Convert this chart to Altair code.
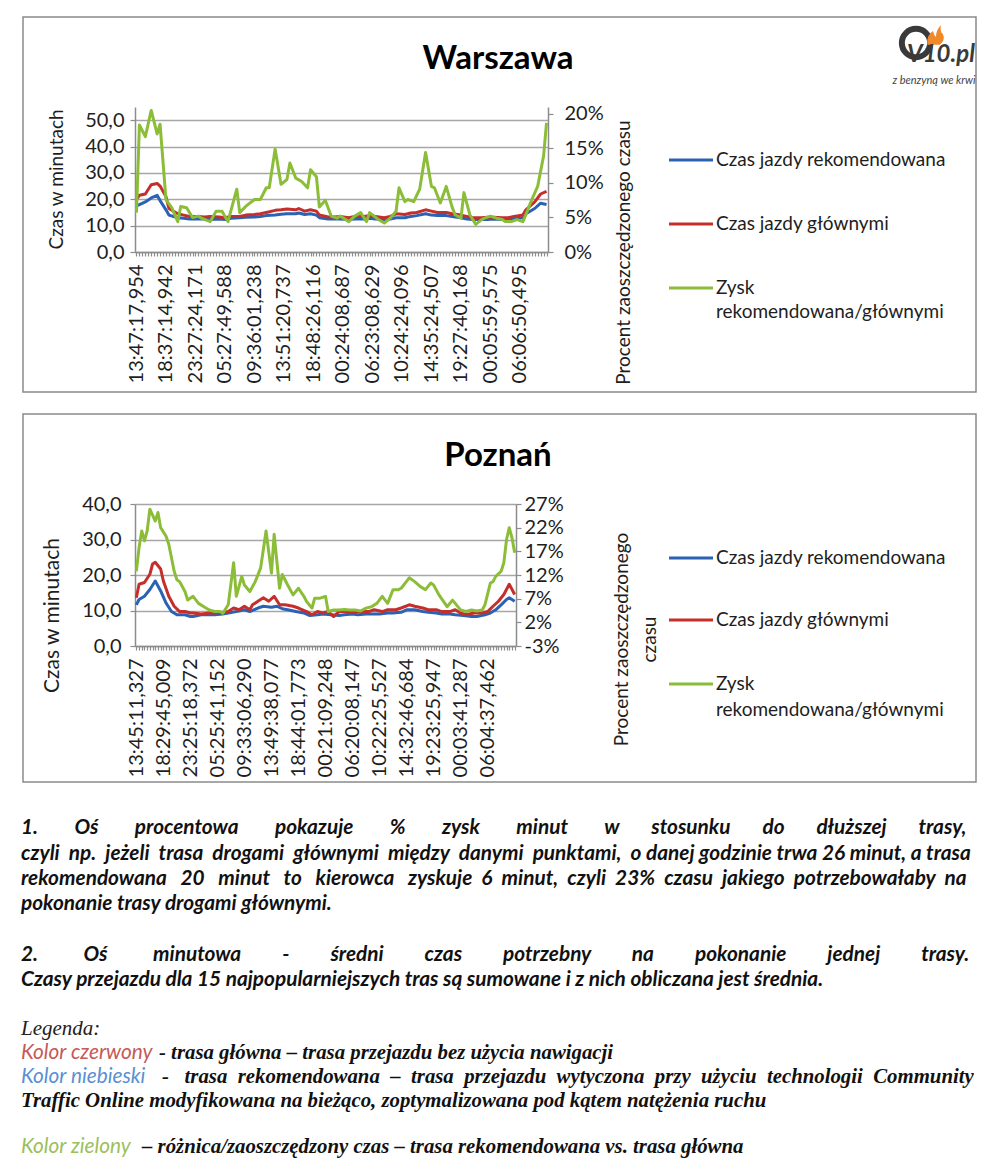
import json
import altair as alt
import pandas as pd

FONT = "Lato"
SERIF = "Liberation Serif"
INK = "#1e1e1e"
GRID = "#a6a6a6"
AXIS = "#8c8c8c"
FRAME = "#8a8a8a"
C_BLUE = "#2b62b3"
C_RED = "#c42f2b"
C_GREEN = "#8cbd38"

SERIES = ["Czas jazdy rekomendowana", "Czas jazdy głównymi", "Zysk rekomendowana/głównymi"]
AX_LEFT = "Czas w minutach"
AX_RIGHT = "Procent zaoszczędzonego czasu"

# ---------------- Warszawa ----------------
W_N = 140
W_LABELS = ["13:47:17,954", "18:37:14,942", "23:27:24,171", "05:27:49,588", "09:36:01,238",
            "13:51:20,737", "18:48:26,116", "00:24:08,687", "06:23:08,629", "10:24:24,096",
            "14:35:24,507", "19:27:40,168", "00:05:59,575", "06:06:50,495"]
W_RB_IDX = [0, 1, 3, 5, 7, 8, 10, 11, 14, 16,
            18, 21, 23, 25, 28, 30, 32, 35, 37, 40,
            42, 44, 47, 49, 51, 54, 55, 57, 59, 61,
            62, 65, 67, 69, 72, 74, 77, 79, 81, 84,
            86, 88, 91, 93, 95, 98, 100, 102, 105, 107,
            110, 112, 114, 117, 119, 121, 124, 126, 128, 131,
            132, 135, 137, 139]
W_RED = [19.9, 21.5, 22, 25.5, 26, 25, 21, 16.5, 14.5, 14,
         13.5, 13.5, 13.3, 13.5, 13.3, 13, 13.5, 13.5, 14, 14.2,
         14.5, 15, 15.8, 16, 16.3, 16, 16.5, 15.5, 16, 15.5,
         14, 13.3, 13.3, 13.5, 13, 13.5, 13.5, 13.8, 13.5, 13,
         13.5, 14.5, 14.2, 14.8, 15, 16, 15.5, 15, 15, 14.5,
         14, 13.5, 13, 13, 13.2, 13.2, 13, 13, 13.5, 14,
         16, 19, 22, 23]
W_BLUE = [17.5, 18, 19, 20.5, 21.5, 19.5, 16, 14, 13, 12.8,
          12.5, 12.5, 12.5, 12.3, 12.5, 12.3, 12.8, 13, 13.2, 13.3,
          13.5, 13.8, 14, 14.3, 14.5, 14.5, 14.8, 14.2, 14.5, 14,
          13, 12.5, 12.5, 12.5, 12.3, 12.5, 12.5, 12.8, 12.5, 12.3,
          12.5, 13, 13, 13.5, 13.8, 14.5, 14, 13.8, 13.8, 13.5,
          13, 12.5, 12.3, 12.3, 12.3, 12.5, 12.3, 12.3, 12.5, 13,
          14.5, 16.5, 18.5, 18]
W_GREEN_IDX = [0, 1, 3, 5, 7, 8, 10, 12, 14, 15,
               17, 19, 21, 22, 25, 27, 29, 31, 34, 35,
               37, 40, 42, 44, 45, 47, 49, 51, 52, 54,
               56, 58, 59, 61, 62, 64, 66, 68, 69, 72,
               74, 76, 78, 79, 82, 84, 86, 88, 89, 91,
               92, 94, 96, 98, 100, 101, 103, 105, 107, 108,
               110, 111, 113, 115, 117, 118, 120, 122, 124, 125,
               127, 129, 131, 132, 134, 136, 138, 139]
W_GREEN = [5.7, 18.4, 16.7, 20.5, 17.1, 18.5, 7.6, 6.4, 4.4, 6.6,
           6.4, 5.0, 5.2, 4.9, 4.4, 5.9, 5.9, 4.4, 9.1, 5.7,
           6.6, 7.6, 7.6, 9.3, 9.3, 14.9, 9.8, 10.5, 12.9, 10.7,
           10.2, 9.3, 11.9, 10.9, 6.5, 7.5, 5.2, 4.9, 5.2, 4.4,
           5.2, 5.7, 4.4, 5.7, 4.7, 4.2, 4.9, 5.9, 9.3, 7.3,
           7.6, 7.3, 9.1, 14.4, 9.5, 9.3, 7.1, 9.5, 6.5, 5.4,
           4.9, 8.6, 5.4, 4.0, 4.7, 4.9, 5.2, 4.9, 4.7, 4.4,
           4.4, 4.7, 4.4, 5.4, 7.6, 9.5, 13.9, 18.7]

# ---------------- Poznań ----------------
P_N = 141
P_LABELS = ["13:45:11,327", "18:29:45,009", "23:25:18,372", "05:25:41,152", "09:33:06,290",
            "13:49:38,077", "18:44:01,773", "00:21:09,248", "06:20:08,147", "10:22:25,527",
            "14:32:46,684", "19:23:25,947", "00:03:41,287", "06:04:37,462"]
P_RED_IDX = [0, 1, 3, 5, 6, 7, 9, 10, 12, 14,
             16, 18, 20, 21, 24, 27, 29, 32, 34, 36,
             38, 40, 42, 43, 45, 47, 49, 51, 53, 55,
             58, 60, 63, 65, 67, 69, 71, 73, 75, 78,
             80, 83, 86, 88, 91, 93, 96, 98, 101, 103,
             106, 108, 111, 113, 116, 118, 120, 122, 125, 128,
             130, 132, 134, 136, 138, 140]
P_RED = [13.6, 17.4, 17.9, 20.2, 23.1, 23.6, 21.7, 18.3, 14.0, 11.2,
         9.7, 9.7, 9.3, 9.3, 9.0, 9.3, 9.3, 9.5, 9.7, 10.7,
         10.2, 11.2, 10.2, 11.6, 12.6, 13.6, 12.6, 14.0, 11.6, 11.6,
         11.2, 10.7, 9.7, 8.8, 9.7, 9.3, 9.7, 8.3, 9.7, 9.7,
         9.7, 9.7, 9.7, 10.2, 9.7, 10.2, 10.2, 10.7, 11.6, 11.2,
         10.7, 10.2, 10.2, 9.7, 9.7, 10.2, 9.3, 8.8, 9.3, 9.3,
         9.7, 11.2, 12.6, 14.5, 17.4, 14.5]
P_BLUE_IDX = [0, 1, 3, 5, 7, 9, 11, 13, 15, 18,
              20, 21, 24, 27, 29, 32, 34, 37, 40, 42,
              45, 47, 50, 52, 54, 56, 59, 62, 64, 67,
              69, 72, 75, 77, 80, 82, 85, 87, 90, 93,
              95, 98, 100, 103, 106, 108, 111, 113, 116, 118,
              121, 124, 126, 129, 131, 133, 135, 137, 138, 140]
P_BLUE = [11.6, 13.1, 14.0, 15.9, 18.3, 15.5, 12.1, 9.7, 8.8, 8.8,
          8.3, 8.3, 8.8, 8.8, 8.8, 9.0, 9.3, 9.7, 10.2, 9.7,
          10.7, 11.2, 10.9, 11.2, 10.5, 10.2, 9.7, 9.3, 8.6, 8.8,
          9.0, 8.8, 8.6, 8.8, 9.0, 8.8, 9.0, 9.0, 9.0, 9.3,
          9.3, 9.5, 10.2, 10.2, 9.7, 9.5, 9.3, 9.0, 9.0, 8.8,
          8.6, 8.3, 8.3, 8.8, 9.3, 10.2, 11.6, 13.1, 13.6, 12.6]
P_GREEN_IDX = [0, 1, 2, 3, 4, 5, 7, 8, 9, 11,
               12, 14, 15, 16, 18, 19, 21, 23, 25, 27,
               29, 31, 32, 34, 36, 37, 39, 40, 42, 44,
               46, 48, 50, 51, 53, 54, 56, 58, 60, 62,
               63, 65, 66, 68, 70, 71, 73, 75, 77, 79,
               81, 83, 85, 87, 89, 91, 93, 95, 97, 98,
               101, 103, 105, 107, 109, 110, 112, 115, 117, 118,
               120, 122, 124, 126, 128, 129, 131, 132, 133, 135,
               136, 137, 138, 139, 140]
P_GREEN = [12.8, 17.8, 21.3, 19.2, 21.3, 25.9, 23.4, 25.2, 22.0, 20.2,
           18.5, 12.8, 11.0, 10.6, 8.5, 6.7, 7.5, 6.0, 5.3, 4.6,
           4.3, 4.3, 3.9, 5.7, 14.6, 7.5, 11.7, 9.9, 8.5, 10.6,
           13.5, 21.3, 12.4, 20.6, 9.2, 12.1, 9.9, 7.8, 9.2, 7.5,
           6.4, 5.0, 7.1, 7.1, 7.5, 4.3, 4.6, 4.6, 4.7, 4.6,
           4.6, 4.4, 5.0, 5.3, 6.0, 7.5, 6.0, 8.9, 8.9, 9.2,
           11.4, 10.6, 9.6, 8.9, 10.3, 9.9, 7.8, 5.3, 6.7, 6.0,
           4.6, 4.3, 4.6, 4.4, 4.6, 5.7, 10.3, 10.6, 11.7, 12.8,
           14.6, 19.5, 22.0, 19.9, 16.7]

# ---------------- notes below the charts ----------------
NOTE_1 = "1. Oś procentowa pokazuje % zysk minut w stosunku do dłuższej trasy,"
NOTE_2 = "czyli np. jeżeli trasa drogami głównymi między danymi punktami, o danej godzinie trwa 26 minut, a trasa"
NOTE_3 = "rekomendowana 20 minut to kierowca zyskuje 6 minut, czyli 23% czasu jakiego potrzebowałaby na"
NOTE_4 = "pokonanie trasy drogami głównymi."
NOTE_5 = "2. Oś minutowa - średni czas potrzebny na pokonanie jednej trasy."
NOTE_6 = "Czasy przejazdu dla 15 najpopularniejszych tras są sumowane i z nich obliczana jest średnia."
LEG_HEAD = "Legenda:"
LEG_RED = ("Kolor czerwony", "- trasa główna – trasa przejazdu bez użycia nawigacji")
LEG_BLUE = ("Kolor niebieski", "- trasa rekomendowana – trasa przejazdu wytyczona przy użyciu technologii Community")
LEG_BLUE_2 = "Traffic Online modyfikowana na bieżąco, zoptymalizowana pod kątem natężenia ruchu"
LEG_GREEN = ("Kolor zielony", "– różnica/zaoszczędzony czas – trasa rekomendowana vs. trasa główna")

ONE = pd.DataFrame({"k": [0]})
FLAME = "M-0.9,1 Q-1,0 -0.3,-0.4 Q-0.2,0.1 0,0.2 Q0,-0.5 0.5,-1 Q0.4,-0.3 0.7,-0.1 Q1,0.5 0.4,1 Z"


def deco_text(text, x, y, **kw):
    kw.setdefault("font", FONT)
    kw.setdefault("color", INK)
    return alt.Chart(ONE).mark_text(text=text, **kw).encode(x=alt.value(x), y=alt.value(y))


def deco_rule(color, x1, x2, y):
    return alt.Chart(ONE).mark_rule(color=color, strokeWidth=3).encode(
        x=alt.value(x1), x2=alt.value(x2), y=alt.value(y))


def deco_point(x, y, **kw):
    return alt.Chart(ONE).mark_point(**kw).encode(x=alt.value(x), y=alt.value(y))


def panel(name, n, labels, red_idx, red, blue_idx, blue, green_idx, green, g, extra=()):
    lines = pd.DataFrame({
        "idx": list(blue_idx) + list(red_idx),
        "val": list(blue) + list(red),
        "series": [SERIES[0]] * len(blue) + [SERIES[1]] * len(red),
    })
    gdf = pd.DataFrame({"idx": green_idx, "pct": green})
    arr = json.dumps(labels, ensure_ascii=False)
    xscale = alt.Scale(domain=[-0.5, n - 0.5], nice=False, zero=False)
    xaxis = alt.Axis(values=list(range(n)),
                     labelExpr=f"datum.value % 10 == 0 ? {arr}[datum.value / 10] : ''",
                     labelAngle=270, labelAlign="right", labelBaseline="middle",
                     labelFontSize=20, labelPadding=8, tickSize=4, labelOverlap=False,
                     labelFlush=False, grid=False, title=None)
    left = alt.Chart(lines).mark_line(strokeWidth=3, strokeJoin="round").encode(
        x=alt.X("idx:Q", scale=xscale, axis=xaxis),
        y=alt.Y("val:Q", scale=alt.Scale(domain=[0, g["ymax"]], nice=False, zero=False),
                axis=alt.Axis(values=g["yticks"],
                              labelExpr="replace(format(datum.value, '.1f'), '.', ',')",
                              grid=True, tickSize=5, labelPadding=g["lpad"], labelFontSize=20,
                              title=AX_LEFT, titleFontSize=g["ltfs"], titleAngle=270,
                              titleAlign="center", titleBaseline="middle",
                              titleX=g["ltx"], titleY=g["lty"])),
        color=alt.Color("series:N", scale=alt.Scale(domain=SERIES[:2], range=[C_BLUE, C_RED]),
                        legend=None),
    )
    right = alt.Chart(gdf).mark_line(color=C_GREEN, strokeWidth=3, strokeJoin="round").encode(
        x=alt.X("idx:Q", scale=xscale, axis=xaxis),
        y=alt.Y("pct:Q", scale=alt.Scale(domain=g["rdom"], nice=False, zero=False),
                axis=alt.Axis(orient="right", values=g["rticks"], labelExpr="datum.value + '%'",
                              grid=False, tickSize=5, labelPadding=g["rpad"], labelFontSize=20,
                              title=g["rtitle"], titleFontSize=19, titleAngle=270,
                              titleAlign="center", titleBaseline="middle",
                              titleX=g["rtx"], titleY=g["rty"], titleLineHeight=28)),
    )
    fx1, fx2, fy1, fy2 = g["frame"]
    frame = alt.Chart(ONE).mark_rect(filled=False, stroke=FRAME, strokeWidth=1.5).encode(
        x=alt.value(fx1), x2=alt.value(fx2), y=alt.value(fy1), y2=alt.value(fy2))
    title = deco_text(name, g["title"][0], g["title"][1], fontSize=33, fontWeight="bold",
                      color="#000000", align="center", baseline="middle")
    lx1, lx2, ltx = g["legx"]
    ly = g["legy"]
    colors = [C_BLUE, C_RED, C_GREEN]
    leg = []
    for i, s in enumerate(SERIES):
        leg.append(deco_rule(colors[i], lx1, lx2, ly[i]))
        if i < 2:
            leg.append(deco_text(s, ltx, ly[i], fontSize=19, align="left", baseline="middle"))
        else:
            first, second = s.split(" ", 1)
            leg.append(deco_text(first, ltx, ly[i], fontSize=19, align="left", baseline="middle"))
            leg.append(deco_text(second, ltx, ly[3], fontSize=19, align="left", baseline="middle"))
    return alt.layer(left, right, frame, title, *leg, *extra).resolve_scale(
        y="independent").properties(width=g["w"], height=g["h"])


GW = dict(w=413, h=145, ymax=55, yticks=[0, 10, 20, 30, 40, 50], lpad=6, ltfs=19, ltx=-79, lty=72,
          rdom=[0, 21], rticks=[0, 5, 10, 15, 20], rpad=11, rtitle=AX_RIGHT, rtx=75, rty=145,
          frame=(-112, 841, -90, 285), title=(363, -48),
          legx=(534, 578, 581), legy=[53, 117, 181, 205])
GP = dict(w=381, h=142, ymax=40, yticks=[0, 10, 20, 30, 40], lpad=9, ltfs=21, ltx=-83, lty=111,
          rdom=[-3, 27], rticks=[-3, 2, 7, 12, 17, 22, 27], rpad=3,
          rtitle=AX_RIGHT.rsplit(" ", 1), rtx=105, rty=135,
          frame=(-112, 841, -90, 278), title=(363, -48),
          legx=(534, 578, 581), legy=[54, 116, 180, 206])

logo = [
    deco_point(781, -64, shape="circle", filled=False, size=800, strokeWidth=6,
               color="#3a3a3a", opacity=1),
    deco_point(801, -72, shape=FLAME, filled=True, size=380, color="#f0892a", opacity=1),
    deco_text("V10.pl", 806, -52, fontSize=24, fontWeight="bold", fontStyle="italic",
              color="#3a3a3a", align="center", baseline="middle"),
    deco_text("z benzyną we krwi", 799, -26, fontSize=11, fontStyle="italic",
              color="#444444", align="center", baseline="middle"),
]

w_chart = panel("Warszawa", W_N, W_LABELS, W_RB_IDX, W_RED, W_RB_IDX, W_BLUE,
                W_GREEN_IDX, W_GREEN, GW, extra=logo)
p_chart = panel("Poznań", P_N, P_LABELS, P_RED_IDX, P_RED, P_BLUE_IDX, P_BLUE,
                P_GREEN_IDX, P_GREEN, GP)

# ---------------- text block ----------------
_lower = "abcdefghijklmnopqrstuvwxyz"
SANS_W = dict(zip(_lower, [.52, .57, .47, .57, .53, .32, .51, .57, .25, .25, .50, .25, .85,
                           .57, .57, .57, .57, .37, .43, .35, .57, .50, .76, .48, .50, .46]))
SANS_W.update({"ą": .52, "ć": .47, "ę": .53, "ł": .27, "ń": .57, "ó": .57, "ś": .43, "ź": .46,
               "ż": .46, " ": .218, ".": .23, ",": .23, ":": .23, "%": .82, "-": .34, "–": .55,
               "/": .38, "O": .78, "C": .66, "K": .6})
SERIF_W = dict(zip(_lower, [.5, .5, .444, .5, .444, .333, .5, .556, .278, .278, .5, .278, .778,
                            .556, .5, .5, .5, .389, .389, .278, .556, .444, .667, .5, .444, .389]))
SERIF_W.update({"ą": .5, "ć": .444, "ę": .444, "ł": .278, "ń": .556, "ó": .5, "ś": .389,
                "ź": .389, "ż": .389, " ": .25, ".": .25, ",": .25, ":": .333, "-": .333,
                "–": .5, "/": .278, "C": .667, "T": .611, "O": .722, "K": .667})


def est(s, table):
    return sum(table.get(c, 0.58 if c.isdigit() else 0.64) for c in s)


def justify(s, width_px, fs, table, factor):
    """Spread the words over width_px with runs of no-break spaces."""
    words = s.split(" ")
    wpx = sum(est(w, table) for w in words) * fs * factor
    sp = table[" "] * fs
    gaps = len(words) - 1
    total = max(gaps, int((width_px - wpx) / sp))
    base, rem = divmod(total, gaps)
    out = words[0]
    for i, w in enumerate(words[1:]):
        out += "\u00a0" * (base + (1 if i < rem else 0)) + w
    return out


# text panel coordinates share the chart panels' origin (page x 134)
TW, TH = 841, 356
X_LEFT = -114
X_RIGHT = 840
SFS, SF = 20.8, 0.963
RFS, RF = 20.8, 1.0
DY = 4

sans_rows = pd.DataFrame({
    "t": [justify(NOTE_1, X_RIGHT - X_LEFT, SFS, SANS_W, SF),
          justify(NOTE_2, X_RIGHT - X_LEFT, SFS, SANS_W, SF),
          justify(NOTE_3, X_RIGHT - X_LEFT, SFS, SANS_W, SF), NOTE_4,
          justify(NOTE_5, X_RIGHT - X_LEFT, SFS, SANS_W, SF), NOTE_6],
    "x": [X_LEFT] * 6,
    "y": [21 + DY, 47 + DY, 72 + DY, 97 + DY, 148 + DY, 173 + DY],
})
serif_rows = pd.DataFrame({
    "t": [LEG_RED[1], justify(LEG_BLUE[1], X_RIGHT - (X_LEFT + 141), RFS, SERIF_W, RF),
          LEG_BLUE_2, LEG_GREEN[1]],
    "x": [X_LEFT + 138, X_LEFT + 141, X_LEFT, X_LEFT + 121],
    "y": [246 + DY, 270 + DY, 294 + DY, 340 + DY],
})
head_rows = pd.DataFrame({"t": [LEG_HEAD], "x": [X_LEFT], "y": [222 + DY]})
red_rows = pd.DataFrame({"t": [LEG_RED[0]], "x": [X_LEFT], "y": [246 + DY]})
blue_rows = pd.DataFrame({"t": [LEG_BLUE[0]], "x": [X_LEFT], "y": [270 + DY]})
green_rows = pd.DataFrame({"t": [LEG_GREEN[0]], "x": [X_LEFT], "y": [340 + DY]})


def text_layer(df, **kw):
    return alt.Chart(df).mark_text(align="left", baseline="middle", **kw).encode(
        x=alt.X("x:Q", scale=alt.Scale(domain=[0, TW], nice=False, zero=False), axis=None),
        y=alt.Y("y:Q", scale=alt.Scale(domain=[0, TH], nice=False, zero=False, reverse=True),
                axis=None),
        text="t:N")


t_chart = alt.layer(
    text_layer(sans_rows, font=FONT, fontSize=SFS, fontStyle="italic", fontWeight="bold", color="#111111"),
    text_layer(serif_rows, font=SERIF, fontSize=RFS, fontStyle="italic", fontWeight="bold", color="#111111"),
    text_layer(head_rows, font=SERIF, fontSize=21, fontStyle="italic", color="#222222"),
    text_layer(red_rows, font=FONT, fontSize=SFS, fontStyle="italic", color="#c65a55"),
    text_layer(blue_rows, font=FONT, fontSize=SFS, fontStyle="italic", color="#5a8fd2"),
    text_layer(green_rows, font=FONT, fontSize=SFS, fontStyle="italic", color="#9bc05a"),
).properties(width=TW, height=TH)

chart = alt.vconcat(w_chart, p_chart, t_chart, spacing=18).properties(
    padding={"left": 12, "top": 7, "right": 0, "bottom": 0}
).configure_view(stroke="transparent").configure_axis(
    labelFont=FONT, titleFont=FONT, labelColor=INK, titleColor=INK, titleFontWeight="normal",
    domainColor=AXIS, tickColor=AXIS, gridColor=GRID, domainWidth=1.5, gridWidth=1.3, tickWidth=1.2
)

chart.save("out.html", embed_options={"renderer": "svg", "actions": False})
